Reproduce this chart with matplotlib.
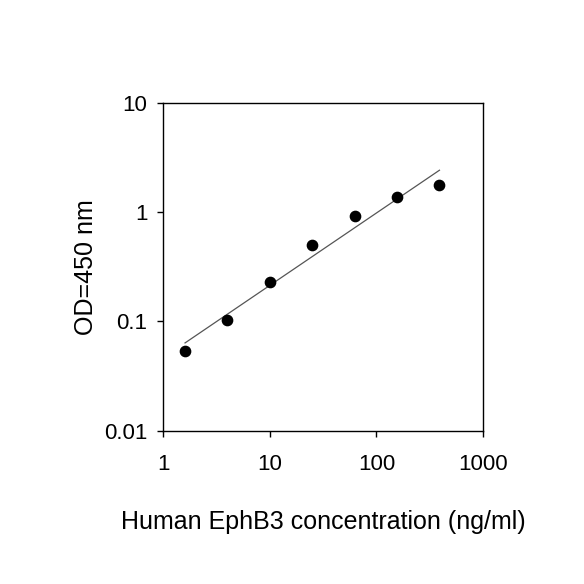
import numpy as np
import matplotlib
matplotlib.use("Agg")
from matplotlib import pyplot as plt
from matplotlib.ticker import FixedLocator, FixedFormatter, NullLocator

plt.rcParams['font.family'] = ['Liberation Sans', 'DejaVu Sans']

# standard curve data
conc = [1.6, 4.0, 10.0, 25.0, 62.5, 156.25, 390.6]
od = [0.054, 0.104, 0.230, 0.496, 0.918, 1.37, 1.75]

x_ticks = [1, 10, 100, 1000]
x_labels = ['1', '10', '100', '1000']
y_ticks = [0.01, 0.1, 1, 10]
y_labels = ['0.01', '0.1', '1', '10']

fig = plt.figure(figsize=(5.84, 5.84), dpi=100)
ax = fig.add_axes([0.2796, 0.2625, 0.5474, 0.5616])

# power fit (straight line on log-log)
slope, icept = np.polyfit(np.log10(conc), np.log10(od), 1)
xf = np.array([conc[0], conc[-1]])
yf = 10 ** (icept + slope * np.log10(xf))
ax.plot(xf, yf, color='#555555', linewidth=0.9, zorder=2)

ax.plot(conc, od, 'o', color='black', markersize=7.4, zorder=3)

ax.set_xscale('log')
ax.set_yscale('log')
ax.set_xlim(1, 1000)
ax.set_ylim(0.01, 10)

ax.xaxis.set_major_locator(FixedLocator(x_ticks))
ax.xaxis.set_major_formatter(FixedFormatter(x_labels))
ax.xaxis.set_minor_locator(NullLocator())
ax.yaxis.set_major_locator(FixedLocator(y_ticks))
ax.yaxis.set_major_formatter(FixedFormatter(y_labels))
ax.yaxis.set_minor_locator(NullLocator())

ax.tick_params(direction='out', length=4.5, width=1, labelsize=16)
ax.tick_params(axis='x', pad=12.5)
ax.tick_params(axis='y', pad=7)
for s in ax.spines.values():
    s.set_linewidth(1)

ax.set_xlabel('Human EphB3 concentration (ng/ml)', fontsize=18, labelpad=25)
ax.set_ylabel('OD=450 nm', fontsize=18, labelpad=4)

fig.savefig('out.png', dpi=100)
